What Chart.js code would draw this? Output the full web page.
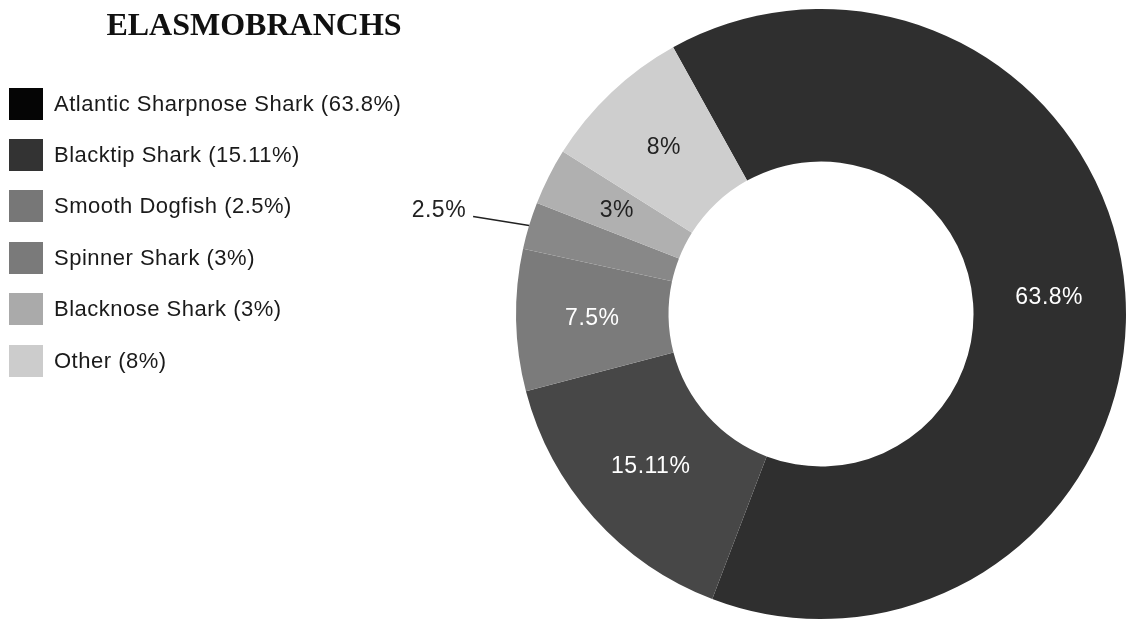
<!DOCTYPE html>
<html>
<head>
<meta charset="utf-8">
<script src="https://cdn.jsdelivr.net/npm/chart.js@4.4.1/dist/chart.umd.min.js"></script>
<style>
    html, body { margin: 0; padding: 0; background: #fff; }
    #wrap { position: relative; width: 1127px; height: 623px; overflow: hidden; }
    #chart { position: absolute; left: 0; top: 0; }
    #title {
        position: absolute; left: 0; top: 6px; width: 508px; text-align: center;
        font-family: 'Liberation Serif', 'Times New Roman', serif; font-weight: bold;
        font-size: 32px; color: #111;
    }
    #legend { position: absolute; left: 9px; top: 78px; font-family: 'Liberation Sans', Arial, sans-serif; }
    .item { display: flex; align-items: center; height: 51.4px; }
    .box { width: 34px; height: 32px; margin-right: 11px; }
    .item span { font-size: 22px; letter-spacing: 0.5px; color: #1a1a1a; }
</style>
</head>
<body>
<div id="wrap">
    <canvas id="chart" width="1127" height="623"></canvas>
    <div id="title">ELASMOBRANCHS</div>
    <div id="legend"></div>
</div>
<script>
// Legend entries (text as printed in the legend)
const legendNames = ['Atlantic Sharpnose Shark', 'Blacktip Shark', 'Smooth Dogfish', 'Spinner Shark', 'Blacknose Shark', 'Other'];
const legendPercents = ['63.8%', '15.11%', '2.5%', '3%', '3%', '8%'];
const legendColors = ['#050505', '#333333', '#777777', '#7a7a7a', '#aaaaaa', '#cccccc'];

// Slices of the doughnut, clockwise
const sliceValues = [63.8, 15.11, 7.5, 2.5, 3, 8];
const sliceLabels = ['63.8%', '15.11%', '7.5%', '2.5%', '3%', '8%'];
const sliceColors = ['#2f2f2f', '#474747', '#7b7b7b', '#888888', '#b0b0b0', '#cecece'];
const labelColors = ['#ffffff', '#ffffff', '#ffffff', '#222222', '#222222', '#222222'];
const outsideLabel = [false, false, false, true, false, false];

// Build the HTML legend
const legendEl = document.getElementById('legend');
legendNames.forEach((name, i) => {
    const row = document.createElement('div');
    row.className = 'item';
    row.innerHTML = '<div class="box" style="background:' + legendColors[i] + '"></div>' +
        '<span>' + name + ' (' + legendPercents[i] + ')</span>';
    legendEl.appendChild(row);
});

// Draw percentage labels on slices (or outside with a leader line)
const sliceLabelPlugin = {
    id: 'sliceLabels',
    afterDatasetsDraw(chart) {
        const ctx = chart.ctx;
        const meta = chart.getDatasetMeta(0);
        ctx.save();
        ctx.font = '23px "Liberation Sans", Arial, sans-serif';
        ctx.letterSpacing = '0.5px';
        meta.data.forEach((arc, i) => {
            const p = arc.getProps(['x', 'y', 'startAngle', 'endAngle', 'innerRadius', 'outerRadius'], true);
            const mid = (p.startAngle + p.endAngle) / 2;
            if (outsideLabel[i]) {
                const x1 = p.x + Math.cos(mid) * p.outerRadius;
                const y1 = p.y + Math.sin(mid) * p.outerRadius;
                const x0 = x1 - 56;
                const y0 = y1 - 9;
                ctx.strokeStyle = '#222';
                ctx.lineWidth = 1.5;
                ctx.beginPath();
                ctx.moveTo(x0, y0);
                ctx.lineTo(x1, y1);
                ctx.stroke();
                ctx.fillStyle = '#222';
                ctx.textAlign = 'right';
                ctx.textBaseline = 'middle';
                ctx.fillText(sliceLabels[i], x0 - 7, y0 - 6);
            } else {
                const r = (p.innerRadius + p.outerRadius) / 2;
                ctx.fillStyle = labelColors[i];
                ctx.textAlign = 'center';
                ctx.textBaseline = 'middle';
                ctx.fillText(sliceLabels[i], p.x + Math.cos(mid) * r, p.y + Math.sin(mid) * r);
            }
        });
        ctx.restore();
    }
};

document.addEventListener('DOMContentLoaded', function() {
    const ctx = document.getElementById('chart').getContext('2d');
    new Chart(ctx, {
        type: 'doughnut',
        data: {
            labels: sliceLabels,
            datasets: [{
                data: sliceValues,
                backgroundColor: sliceColors,
                borderWidth: 0
            }]
        },
        options: {
            responsive: false,
            animation: false,
            rotation: -29,
            cutout: '50%',
            layout: { padding: { left: 516, top: 9, right: 1, bottom: 4 } },
            plugins: {
                legend: { display: false },
                tooltip: { enabled: false }
            }
        },
        plugins: [sliceLabelPlugin]
    });
});
</script>
</body>
</html>
